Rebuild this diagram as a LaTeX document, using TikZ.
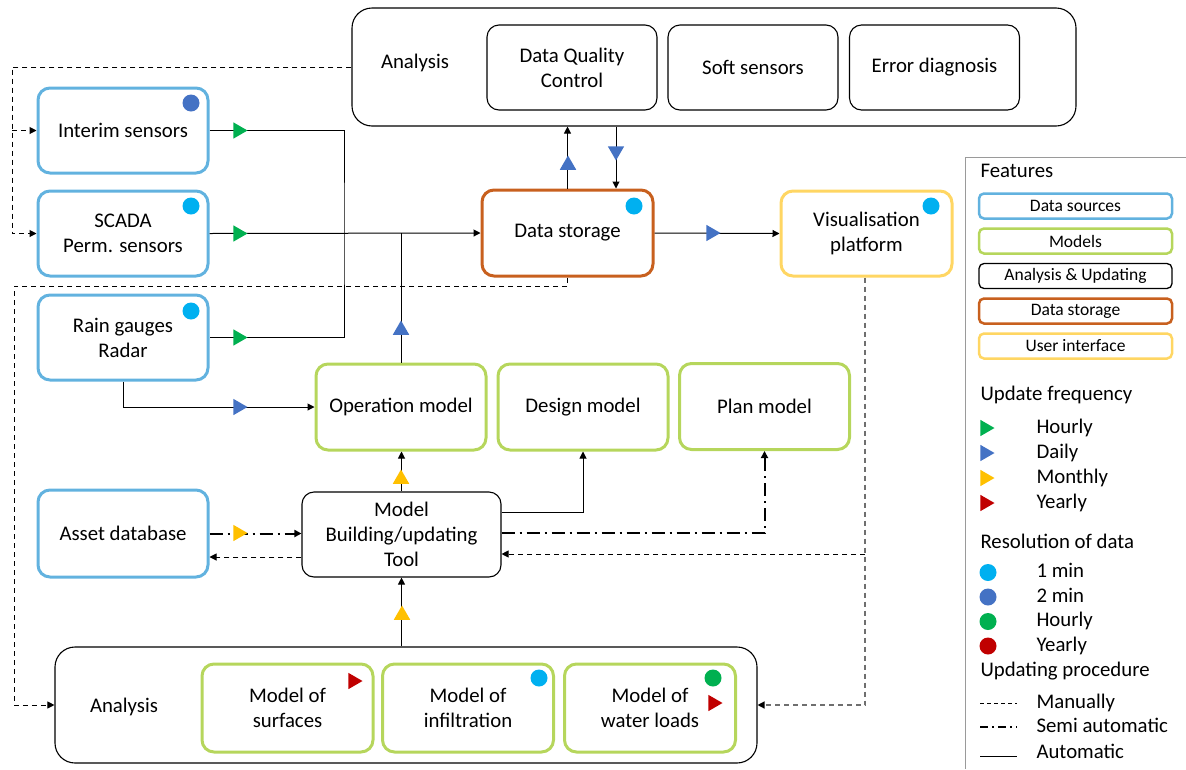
\documentclass[tikz,border=0pt]{standalone}
\usepackage{fontspec}
\setmainfont{Carlito}
\usetikzlibrary{arrows.meta,shapes.geometric}

\definecolor{srcblue}{HTML}{62B2DF}
\definecolor{modgreen}{HTML}{B6D65C}
\definecolor{storeorange}{HTML}{C8601E}
\definecolor{uiyellow}{HTML}{FFD663}
\definecolor{hourlygreen}{HTML}{00B050}
\definecolor{dailyblue}{HTML}{4472C4}
\definecolor{monthlyyellow}{HTML}{FFC000}
\definecolor{yearlyred}{HTML}{C00000}
\definecolor{minblue}{HTML}{00B0F0}
\definecolor{dashgrey}{HTML}{6F6F6F}

\tikzset{
  box/.style = {rectangle, rounded corners=12pt, align=center,
    minimum width=170pt, minimum height=85pt, inner sep=2pt},
  source/.style = {box, draw=srcblue, line width=3pt},
  model/.style = {box, draw=modgreen, line width=3pt},
  analysis/.style = {box, draw=black, line width=1.1pt},
  storage/.style = {box, draw=storeorange, line width=3pt},
  ui/.style = {box, draw=uiyellow, line width=3pt},
  legendbox/.style = {rectangle, rounded corners=5pt, minimum width=193pt,
    minimum height=25pt, inner sep=0pt, font=\fontsize{17.5}{21}\selectfont},
  legendtext/.style = {anchor=west, inner sep=0pt, text height=14pt, text depth=4pt},
  flow/.style = {line width=1pt, -{Triangle[length=7pt,width=7pt,black]}},
  manual/.style = {dash pattern=on 5pt off 4pt},
  semi/.style = {line width=2pt, dash pattern=on 13pt off 5pt on 2pt off 5pt},
  freq/.style = {regular polygon, regular polygon sides=3, minimum size=19pt,
    inner sep=0pt}
}

\begin{document}
\begin{tikzpicture}[x=1pt, y=-1pt, line width=1pt, font=\fontsize{20.8}{25}\selectfont]
  \useasboundingbox (0,0) rectangle (1186,769);
  %
  % analysis, top
  \node[analysis, rounded corners=20pt, minimum width=724pt, minimum height=118pt] (ana) at (714,67) {};
  \node (anatxt) at (415,63) {Analysis};
  \node[analysis] (dqc) at (572,67.5) {Data Quality\\Control};
  \node[analysis] (soft) at (753,67.5) {Soft sensors};
  \node[analysis] (err) at (934.5,67.5) {Error diagnosis};
  %
  % data sources
  \node[source] (intr) at (123,130.5) {Interim sensors};
  \node[source] (scada) at (123,233.5) {SCADA\\Perm. sensors};
  \node[source] (rain) at (123,337.5) {Rain gauges\\Radar};
  \node[source, minimum height=87pt] (asset) at (123,533.5) {Asset database};
  %
  \node[storage, minimum width=171pt, minimum height=86pt] (store) at (567.5,233) {Data storage};
  \node[ui, minimum width=171pt] (vis) at (866.5,233.5) {Visualisation\\platform};
  %
  % models
  \node[model, minimum height=86pt] (opm) at (401,407) {Operation model};
  \node[model, minimum height=86pt] (desm) at (583,407) {Design model};
  \node[model, minimum height=86pt] (planm) at (764.5,406.5) {Plan model};
  \node[analysis, minimum width=199pt] (tool) at (401.5,534.5) {Model\\Building/updating\\Tool};
  %
  % analysis, bottom
  \node[analysis, rounded corners=20pt, minimum width=702pt, minimum height=116pt] (anab) at (406,705) {};
  \node (anabtxt) at (124,707) {Analysis};
  \node[model, minimum width=171pt, minimum height=88pt] (surf) at (287.5,708) {Model of\\surfaces};
  \node[model, minimum width=171pt, minimum height=88pt] (infl) at (468,708) {Model of\\infiltration};
  \node[model, minimum width=171pt, minimum height=88pt] (water) at (650,708) {Model of\\water loads};
  %
  % automatic
  \coordinate (jn) at (344,233.5);
  \draw (intr.east) -| (jn) |- (rain.east);
  \draw[flow] (scada.east) -- (store.west);
  \draw[flow] (store.north) -- (store.north |- ana.south);
  \coordinate (dn) at (616,0);
  \draw[flow] (ana.south -| dn) -- (store.north -| dn);
  \draw[flow] (store.east) -- (vis.west);
  \draw (opm.north) -- (opm.north |- store.west);
  \draw[flow] (rain.south) |- (opm.west);
  \draw[flow] (tool.north) -- (tool.north |- opm.south);
  \draw[flow] ([yshift=22pt]tool.east) -| (desm.south);
  \draw[flow] (tool.south |- anab.north) -- (tool.south);
  %
  % semi automatic
  \draw[flow, semi] ([yshift=1.5pt]tool.east) -| (planm.south);
  \draw[flow, semi] (asset.east) -- (asset.east -| tool.west);
  %
  % manually
  \coordinate (tw) at ([yshift=-22.5pt]tool.west);
  \draw[flow, manual] (tw) -- (tw -| asset.east);
  \coordinate (lt) at (12,0);
  \draw[flow, manual] (ana.west) -| (lt |- scada.west) -- (scada.west);
  \draw[flow, manual] (lt |- intr.west) -- (intr.west);
  \coordinate (lb) at (14,286);
  \draw[flow, manual] (store.south) |- (lb) |- (anab.west);
  \coordinate (rb) at (865,554);
  \draw[flow, manual, dashgrey, line width=1.4pt] (vis.south -| rb) |- (anab.east);
  \draw[flow, manual] (rb) -- (rb -| tool.east);
  %
  % update frequency marks
  \foreach \x/\y/\r/\c [count=\i] in {238/130.5/-90/hourlygreen, 238/233.5/-90/hourlygreen,
      238/337.5/-90/hourlygreen, 568/165/0/dailyblue, 616/151/180/dailyblue,
      711/233/-90/dailyblue, 401/330/0/dailyblue, 238/407/-90/dailyblue,
      401/479/0/monthlyyellow, 238/533/-90/monthlyyellow, 402/615/0/monthlyyellow,
      353/681/-90/yearlyred, 713/703/-90/yearlyred}
    \node[freq, fill=\c, rotate=\r] (fq\i) at (\x,\y) {};
  %
  % resolution dots
  \foreach \x/\y/\c in {191/103/dailyblue, 191/206/minblue, 191/311/minblue, 634/206/minblue,
      931/206/minblue, 539/678/minblue, 713/678/hourlygreen}
    \fill[\c] (\x,\y) circle (8.5pt);
  %
  % legend
  \draw[dashgrey!70] (1186,157) -- (965,157) -- (965,769);
  \node[legendtext] (feat) at (980,172) {Features};
  \foreach \t/\c/\w [count=\i] in {Data sources/srcblue/2.5pt, Models/modgreen/2.5pt,
      Analysis \& Updating/black/1.3pt, Data storage/storeorange/2.5pt, User interface/uiyellow/2.5pt}
    \node[legendbox, draw=\c, line width=\w] (lg\i) at (1075.5,{171+35*\i}) {\t};
  %
  \node[legendtext] (upd) at (980,395) {Update frequency};
  \foreach \t/\c [count=\i] in {Hourly/hourlygreen, Daily/dailyblue, Monthly/monthlyyellow, Yearly/yearlyred} {
    \node[freq, fill=\c, rotate=-90] (lf\i) at (985,{403+25*\i}) {};
    \node[legendtext] (lft\i) at (1036,{403+25*\i}) {\t};
  }
  \node[legendtext] (res) at (980,543) {Resolution of data};
  \foreach \t/\c [count=\i] in {1 min/minblue, 2 min/dailyblue, Hourly/hourlygreen, Yearly/yearlyred} {
    \fill[\c] (988,{548+24.5*\i}) circle (8.5pt);
    \node[legendtext] (lrt\i) at (1036,{548+24.5*\i}) {\t};
  }
  \node[legendtext] (proc) at (980,671) {Updating procedure};
  \draw[manual, dash pattern=on 4pt off 3pt] (980,703) -- (1017,703);
  \draw[semi, dash pattern=on 8pt off 4pt on 2pt off 4pt] (980,727) -- (1017,727);
  \draw (980,756) -- (1017,756);
  \node[legendtext] (lpt1) at (1036,703) {Manually};
  \node[legendtext] (lpt2) at (1036,727) {Semi automatic};
  \node[legendtext] (lpt3) at (1036,753) {Automatic};
\end{tikzpicture}
\end{document}
